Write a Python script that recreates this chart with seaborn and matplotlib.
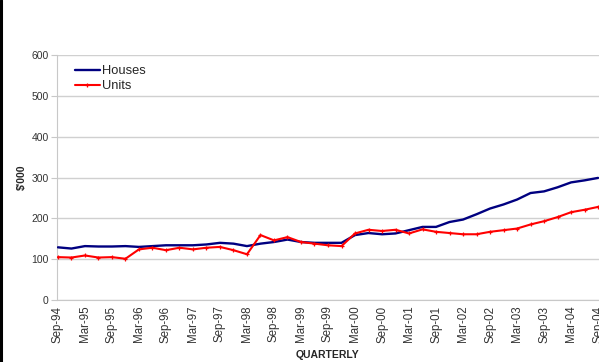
import matplotlib
matplotlib.use("Agg")
import matplotlib.pyplot as plt
from matplotlib.lines import Line2D
import seaborn as sns
import pandas as pd
import numpy as np

quarters = ["Sep-94", "Dec-94", "Mar-95", "Jun-95", "Sep-95", "Dec-95", "Mar-96", "Jun-96",
            "Sep-96", "Dec-96", "Mar-97", "Jun-97", "Sep-97", "Dec-97", "Mar-98", "Jun-98",
            "Sep-98", "Dec-98", "Mar-99", "Jun-99", "Sep-99", "Dec-99", "Mar-00", "Jun-00",
            "Sep-00", "Dec-00", "Mar-01", "Jun-01", "Sep-01", "Dec-01", "Mar-02", "Jun-02",
            "Sep-02", "Dec-02", "Mar-03", "Jun-03", "Sep-03", "Dec-03", "Mar-04", "Jun-04",
            "Sep-04"]
houses = [129, 126, 132, 131, 131, 132, 130, 132, 134, 134,
          134, 136, 140, 138, 132, 138, 142, 148, 142, 140,
          140, 140, 159, 164, 161, 163, 171, 179, 179, 191,
          197, 210, 224, 234, 246, 262, 266, 276, 288, 293, 299]
units = [105, 104, 109, 104, 105, 101, 124, 128, 122, 128,
         124, 128, 130, 122, 112, 159, 146, 154, 142, 138,
         134, 132, 163, 172, 169, 172, 163, 173, 167, 164,
         161, 161, 167, 171, 175, 185, 193, 203, 215, 221, 228]
yticks = [0, 100, 200, 300, 400, 500, 600]

sns.set_style("white")
plt.rcParams['font.family'] = ['Liberation Sans', 'DejaVu Sans']

df = pd.DataFrame({"idx": np.arange(len(quarters)), "Houses": houses, "Units": units})

fig = plt.figure(figsize=(5.99, 3.62), dpi=100)
ax = fig.add_axes([57 / 599, 1 - 300 / 362, 1 - 57 / 599, 245 / 362])

sns.lineplot(data=df, x="idx", y="Houses", ax=ax, color="#000080", linewidth=1.7,
             label="Houses", zorder=3)
sns.lineplot(data=df, x="idx", y="Units", ax=ax, color="#FF0000", linewidth=1.5,
             marker="+", markersize=3, markeredgewidth=0.9, markeredgecolor="#FF0000",
             label="Units", zorder=4)

ax.set_ylim(0, 600)
ax.set_xlim(-0.07, 40.07)
ax.set_yticks(yticks)
ax.set_yticklabels([str(v) for v in yticks])
ax.set_xticks(np.arange(0, len(quarters), 2))
ax.set_xticklabels(quarters[::2], rotation=90)
ax.grid(axis="y", color="#d0d0d0", linewidth=1.0)
ax.set_axisbelow(True)
for s in ["top", "right"]:
    ax.spines[s].set_visible(False)
ax.spines["left"].set_color("#c8c8c8")
ax.spines["bottom"].set_color("#c8c8c8")
ax.tick_params(axis="y", length=4, color="#c8c8c8", labelsize=7.5, labelcolor="#333333", pad=2, left=True)
ax.tick_params(axis="x", length=0, labelsize=8.3, labelcolor="#333333", pad=4)

ax.set_xlabel("QUARTERLY", fontsize=7.5, fontweight="bold", labelpad=5)
ax.set_ylabel("$'000", fontsize=7.5, fontweight="bold")
ax.yaxis.set_label_coords(-0.055, 0.5)

leg = ax.legend(loc="upper left", bbox_to_anchor=(70 / 599, 1 - 60 / 362),
                bbox_transform=fig.transFigure, frameon=False, fontsize=9.3,
                handlelength=1.9, handletextpad=0.2, labelspacing=0.25, borderaxespad=0)

fig.add_artist(Line2D([0.002, 0.002], [0, 1], color="black", linewidth=2.2,
                      transform=fig.transFigure))

fig.savefig("out.png", dpi=100)
